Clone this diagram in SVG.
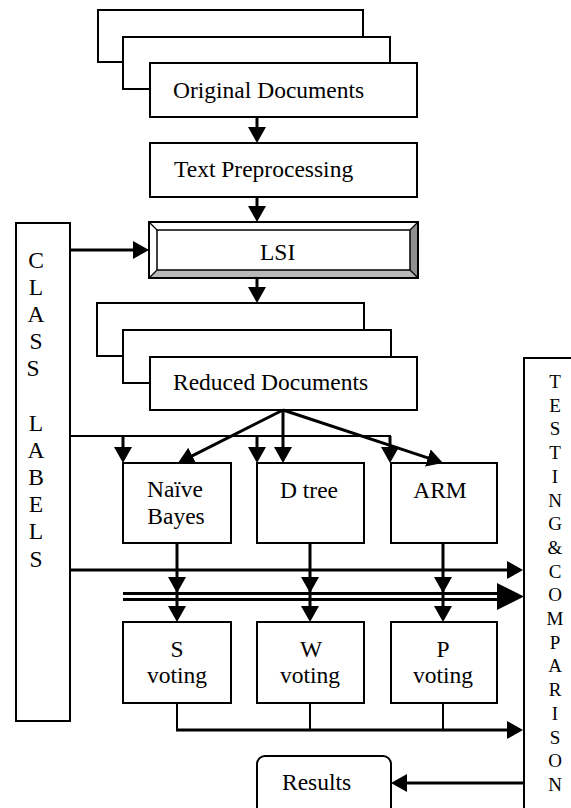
<svg xmlns="http://www.w3.org/2000/svg" width="571" height="808" viewBox="0 0 571 808">
<defs>
<style>
.box{fill:#fff;stroke:#000;stroke-width:2}
.t{font-family:"Liberation Serif","Times New Roman",serif;font-size:23.5px;fill:#000}
.tm{text-anchor:middle}
.lt{font-family:"Liberation Serif","Times New Roman",serif;font-size:19px;fill:#000;text-anchor:middle}
.thick{stroke:#000;stroke-width:3;fill:none}
.thin{stroke:#000;stroke-width:2;fill:none}
.ar{marker-end:url(#ah)}
</style>
<marker id="ah" markerUnits="userSpaceOnUse" viewBox="0 0 16 18" refX="4" refY="9" markerWidth="16" markerHeight="18" orient="auto"><path d="M0,0 L16,9 L0,18 z" fill="#000"/></marker>
</defs>
<rect width="571" height="808" fill="#fff"/>

<g id="original-documents">
<rect class="box" x="98" y="10" width="265" height="52"/>
<rect class="box" x="123" y="37" width="267" height="52"/>
<rect class="box" x="150" y="63" width="267" height="54"/>
<text class="t" x="173" y="98">Original Documents</text>
</g>

<g id="text-preprocessing">
<rect class="box" x="150" y="143" width="267" height="54"/>
<text class="t" x="174" y="177">Text Preprocessing</text>
</g>

<g id="lsi">
<polygon points="149,222 418,222 410,230 157,230" fill="#fff"/>
<polygon points="149,222 157,230 157,270 149,278" fill="#fff"/>
<polygon points="149,278 157,270 410,270 418,278" fill="#b8b8b8"/>
<polygon points="418,222 418,278 410,270 410,230" fill="#909090"/>
<rect x="149" y="222" width="269" height="56" fill="none" stroke="#000" stroke-width="2"/>
<rect x="157" y="230" width="253" height="40" fill="#fff" stroke="#000" stroke-width="1.5"/>
<path d="M149,222 L157,230 M418,222 L410,230 M149,278 L157,270 M418,278 L410,270" stroke="#000" stroke-width="1.2"/>
<text class="t" x="260" y="260">LSI</text>
</g>

<g id="reduced-documents">
<rect class="box" x="97" y="303" width="267" height="53"/>
<rect class="box" x="123" y="330" width="268" height="53"/>
<rect class="box" x="150" y="357" width="267" height="53"/>
<text class="t" x="173" y="390">Reduced Documents</text>
</g>

<g id="class-labels">
<rect class="box" x="16" y="223" width="54" height="498"/>
<text class="t tm">
<tspan x="36" y="268">C</tspan><tspan x="36" y="295">L</tspan><tspan x="36" y="322">A</tspan><tspan x="36" y="349">S</tspan><tspan x="36" y="376">S</tspan>
<tspan x="36" y="431">L</tspan><tspan x="36" y="458">A</tspan><tspan x="36" y="485">B</tspan><tspan x="36" y="512">E</tspan><tspan x="36" y="539">L</tspan><tspan x="36" y="567">S</tspan>
</text>
</g>

<g id="naive-bayes">
<rect class="box" x="123" y="463" width="108" height="80"/>
<text class="t tm"><tspan x="175" y="497">Naïve</tspan><tspan x="176" y="524">Bayes</tspan></text>
</g>

<g id="d-tree">
<rect class="box" x="257" y="463" width="107" height="80"/>
<text class="t tm" x="309" y="498">D tree</text>
</g>

<g id="arm">
<rect class="box" x="391" y="463" width="106" height="80"/>
<text class="t tm" x="440" y="498">ARM</text>
</g>

<g id="s-voting">
<rect class="box" x="123" y="622" width="108" height="81"/>
<text class="t tm"><tspan x="177" y="657">S</tspan><tspan x="177" y="683">voting</tspan></text>
</g>

<g id="w-voting">
<rect class="box" x="257" y="622" width="107" height="81"/>
<text class="t tm"><tspan x="311" y="657">W</tspan><tspan x="310" y="683">voting</tspan></text>
</g>

<g id="p-voting">
<rect class="box" x="391" y="622" width="106" height="81"/>
<text class="t tm"><tspan x="443" y="657">P</tspan><tspan x="443" y="683">voting</tspan></text>
</g>

<g id="testing-comparison">
<rect class="box" x="524" y="358" width="60" height="470"/>
<text class="lt">
<tspan x="555" y="388">T</tspan><tspan x="555" y="411.7">E</tspan><tspan x="555" y="435.4">S</tspan><tspan x="555" y="459.1">T</tspan><tspan x="555" y="482.8">I</tspan><tspan x="555" y="506.5">N</tspan><tspan x="555" y="530.2">G</tspan><tspan x="555" y="553.9">&amp;</tspan><tspan x="555" y="577.6">C</tspan><tspan x="555" y="601.3">O</tspan><tspan x="555" y="625">M</tspan><tspan x="555" y="648.7">P</tspan><tspan x="555" y="672.4">A</tspan><tspan x="555" y="696.1">R</tspan><tspan x="555" y="719.8">I</tspan><tspan x="555" y="743.5">S</tspan><tspan x="555" y="767.2">O</tspan><tspan x="555" y="790.9">N</tspan>
</text>
</g>

<g id="results">
<rect class="box" x="257" y="756" width="134" height="70" rx="8" ry="8"/>
<text class="t" x="282" y="790">Results</text>
</g>

<g id="connectors">
<line class="thick ar" x1="257" y1="117" x2="257" y2="131"/>
<line class="thick ar" x1="257" y1="197" x2="257" y2="210"/>
<line class="thick ar" x1="257" y1="278" x2="257" y2="291"/>
<line class="thick ar" x1="70" y1="250" x2="137" y2="250"/>
<line class="thick ar" x1="283" y1="410" x2="188.7" y2="457.6"/>
<line class="thick ar" x1="283" y1="410" x2="283" y2="451"/>
<line class="thick ar" x1="283" y1="410" x2="431.6" y2="459.2"/>
<path class="thin" d="M70,436 H391"/>
<line class="thick ar" x1="123" y1="436" x2="123" y2="451"/>
<line class="thick ar" x1="257" y1="436" x2="257" y2="451"/>
<line class="thick ar" x1="390" y1="436" x2="390" y2="451"/>
<line class="thick ar" x1="70" y1="570" x2="511" y2="570"/>
<path class="thick" d="M123,593.5 H498" stroke-width="3.5"/>
<path class="thick" d="M123,599.5 H498" stroke-width="2.5"/>
<polygon points="497,583 524,596.5 497,610" fill="#000"/>
<path class="thick" d="M177,543 V581 V610" marker-mid="url(#ah)" marker-end="url(#ah)"/>
<path class="thick" d="M310,543 V581 V610" marker-mid="url(#ah)" marker-end="url(#ah)"/>
<path class="thick" d="M443,543 V581 V610" marker-mid="url(#ah)" marker-end="url(#ah)"/>
<path class="thin" d="M177,703 V730 M310,703 V730 M443,703 V730" stroke-width="1.5"/>
<line class="thick ar" x1="176" y1="730" x2="511" y2="730"/>
<line class="thick ar" x1="524" y1="783" x2="403" y2="783"/>
</g>
</svg>
